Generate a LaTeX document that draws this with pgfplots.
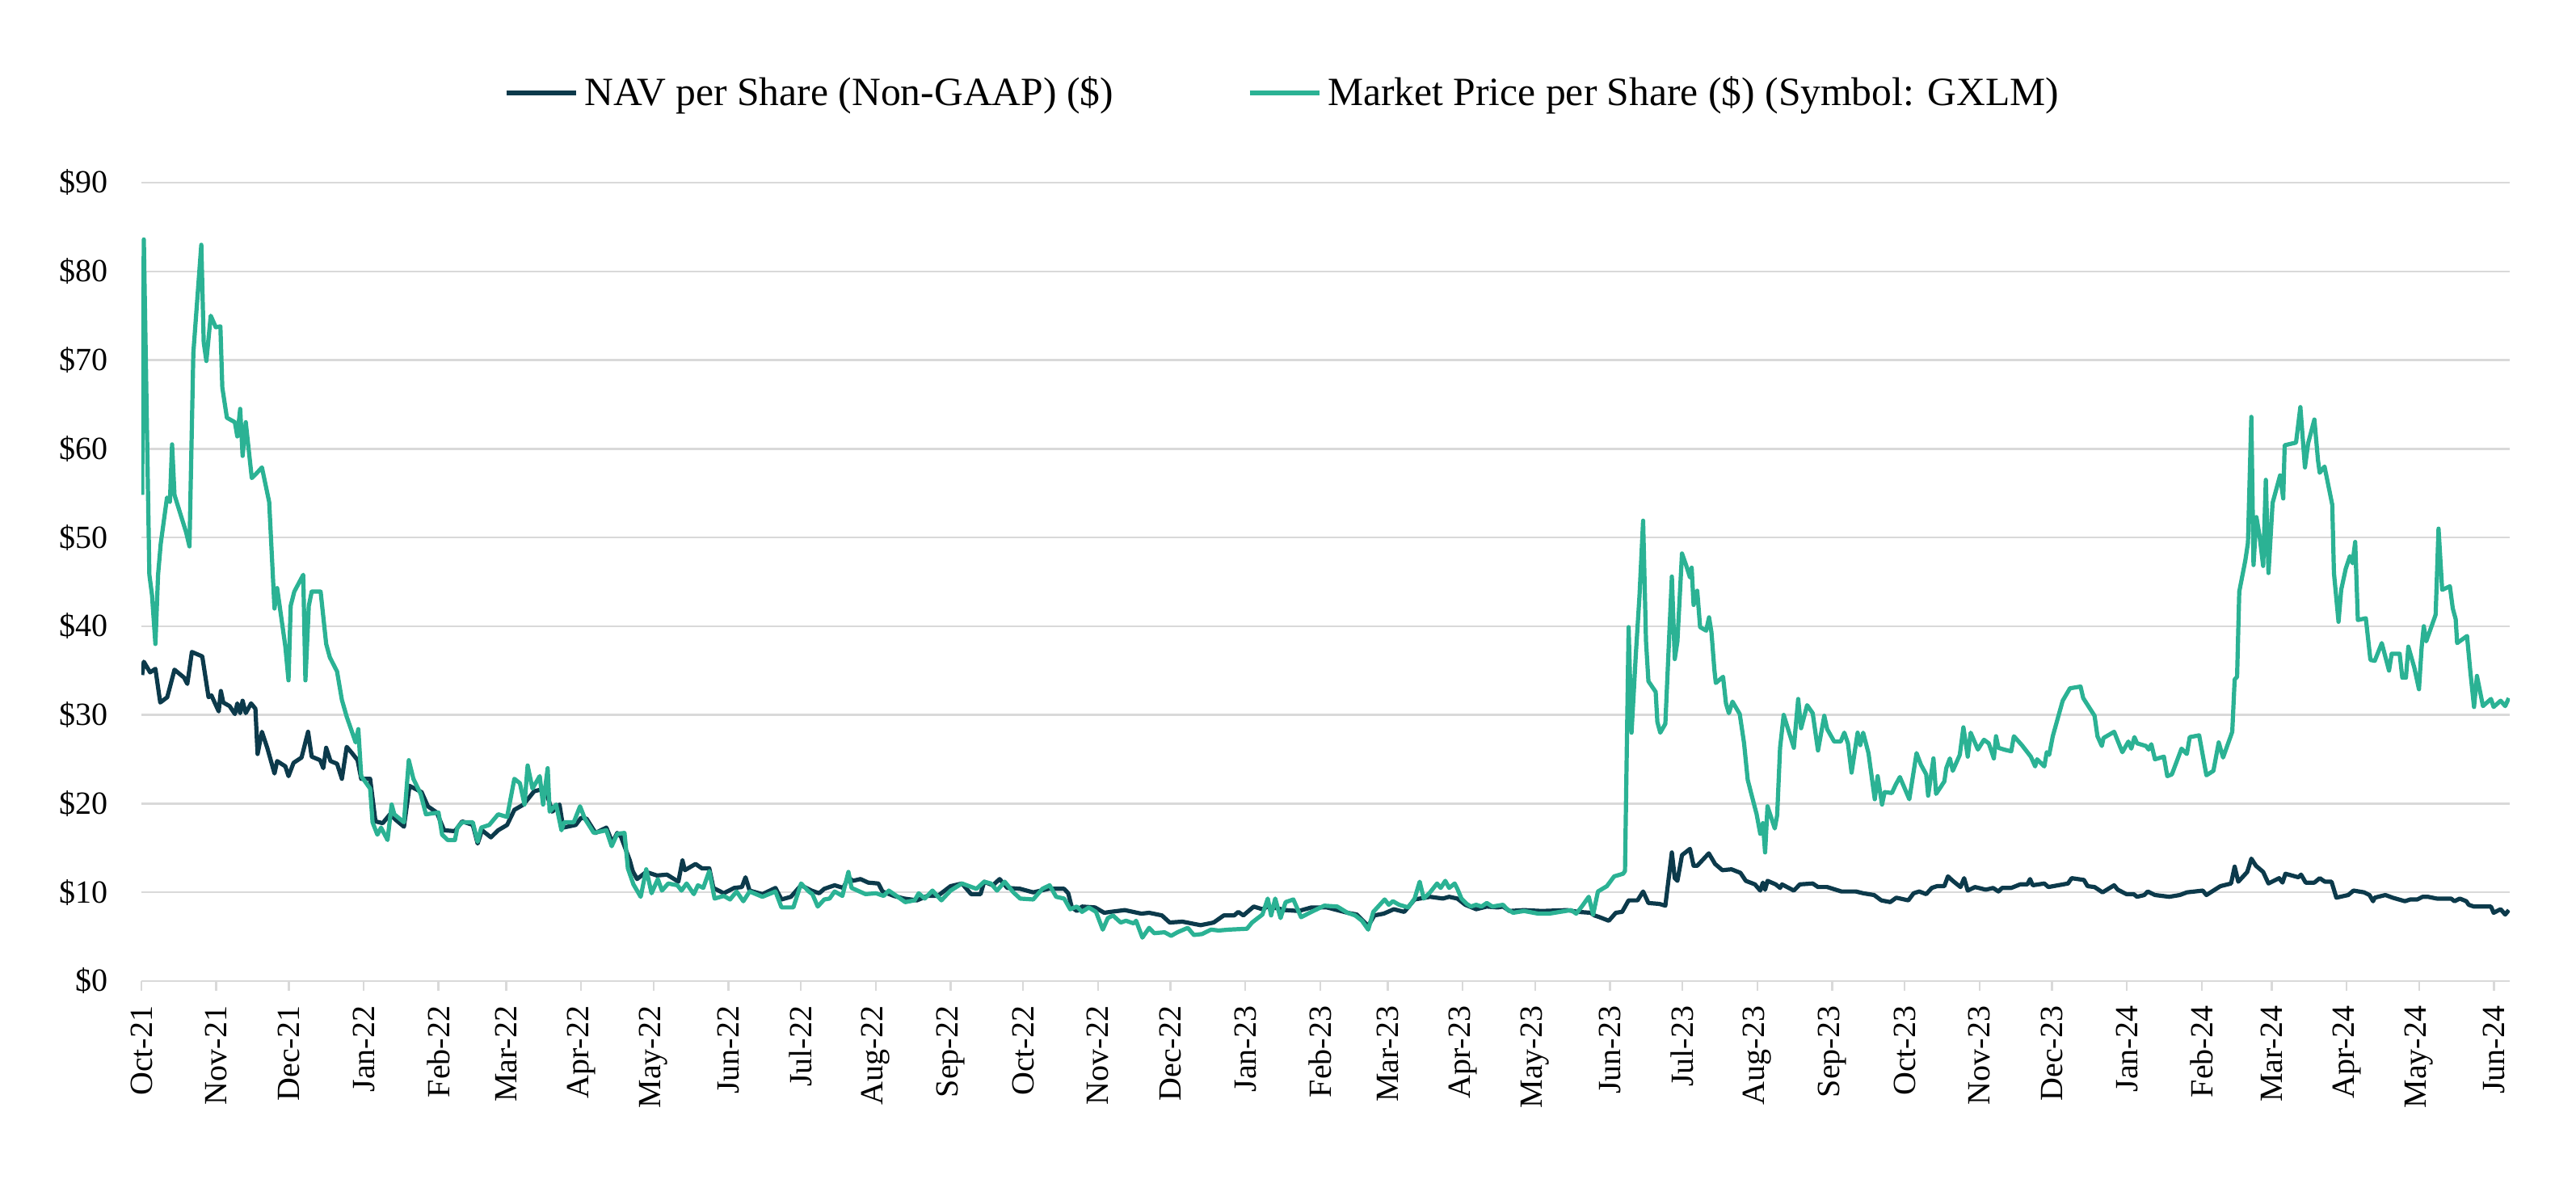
\documentclass[border=0pt]{standalone}
\usepackage{fontspec}
\setmainfont{Liberation Serif}
\usepackage{pgfplots}
\pgfplotsset{compat=1.18}
\definecolor{navc}{RGB}{12,58,75}
\definecolor{mktc}{RGB}{43,178,148}
\definecolor{gridc}{RGB}{217,217,217}
\begin{document}
\begin{tikzpicture}
\path[use as bounding box] (-43.75pt,-65.25pt) rectangle (753.25pt,303.5pt);
\begin{axis}[
  at={(0pt,0pt)}, anchor=south west,
  scale only axis, width=732.75pt, height=247pt,
  xmin=0, xmax=980.5, ymin=0, ymax=90,
  axis line style={draw=none},
  ymajorgrids, grid style={draw=gridc, line width=0.6pt},
  ytick={0,10,...,90},
  yticklabels={\$0,\$10,\$20,\$30,\$40,\$50,\$60,\$70,\$80,\$90},
  ytick style={draw=none},
  xtick={0,31,61,92,123,151,182,212,243,273,304,335,365,396,426,457,488,516,547,577,608,638,669,700,730,761,791,822,853,882,913,943,974},
  xticklabels={Oct-21,Nov-21,Dec-21,Jan-22,Feb-22,Mar-22,Apr-22,May-22,Jun-22,Jul-22,Aug-22,Sep-22,Oct-22,Nov-22,Dec-22,Jan-23,Feb-23,Mar-23,Apr-23,May-23,Jun-23,Jul-23,Aug-23,Sep-23,Oct-23,Nov-23,Dec-23,Jan-24,Feb-24,Mar-24,Apr-24,May-24,Jun-24},
  xtick style={draw=gridc, line width=0.6pt},
  tick align=outside, xtick pos=lower, ytick pos=left,
  major tick length=3pt,
  xticklabel style={rotate=90, anchor=east, inner sep=0pt, font=\fontsize{10}{12}\selectfont},
  yticklabel style={inner sep=0pt, font=\fontsize{10}{12}\selectfont},
  xticklabel shift=4.5pt,
  yticklabel shift=7.25pt,
  /pgf/number format/assume math mode=true,
  legend columns=2,
  legend style={at={(0.4828,1.1123)}, anchor=center, draw=none, fill=none,
    font=\fontsize{12.4}{14}\selectfont,
    /tikz/every even column/.append style={column sep=39.5pt}},
  legend image code/.code={\draw[#1, line width=1.3pt] (0pt,0pt) -- (21.5pt,0pt);},
  line join=round,
]
\addplot[navc, line width=1.3pt] table {
0.3 34.5
1 36
3.6 34.8
5.8 35.2
7.8 31.4
10.7 32
13.7 35.1
17.7 34.2
19 33.5
20.9 37.1
25.2 36.6
27.8 32
29 32.2
32 30.4
32.9 32.7
33.9 31.4
36.5 31
38.7 30.1
39.7 31.3
40.9 30.2
41.9 31.6
43.2 30.2
45.4 31.3
47.2 30.7
48.1 25.6
49.9 28.1
52.1 26.3
55.1 23.4
56.2 24.8
59.6 24.2
60.9 23.1
63 24.6
66.3 25.2
69 28.1
70.5 25.3
74 24.9
75.3 24
76.5 26.3
78.3 24.8
81 24.5
83 22.8
85 26.4
87.2 25.7
89.5 24.9
91 22.8
94.7 22.8
96.9 18
99.9 17.8
102.9 18.8
105.2 18.2
108.7 17.4
111 22
116 21.3
118.6 19.7
122.3 19
125.3 17
129.8 16.9
132.8 18
137.2 17.6
139.2 15.5
141 17
144.7 16.2
147.7 17
151.4 17.6
154.4 19.3
158.2 19.9
162.6 21.4
167.1 21.7
170.1 19.1
173.1 19.9
174.6 17.3
179.8 17.6
182 18.4
184.3 18.3
188 16.7
192.5 17.3
195 15.6
197 16.7
198.5 16.3
202.2 13.6
203.4 12.4
205.2 11.5
209 12.3
213.4 11.9
217.6 12
222.3 11.2
224 13.6
225 12.5
229.4 13.2
232.1 12.7
235.1 12.7
236.8 10.5
241.1 9.9
245.4 10.5
248.6 10.6
250.1 11.7
251.8 10.2
257.1 9.8
262.5 10.5
265 9.2
268.9 9.5
273.1 10.8
277.4 10.2
280.6 9.9
282.7 10.4
287 10.8
290.6 10.5
292.7 11.7
294.5 11.3
297.7 11.5
300.9 11.1
305.1 11
306.8 10.1
311.5 9.6
315.8 9.3
321.1 9.1
325.4 9.6
329.7 9.6
335 10.7
339.7 11
343.5 9.8
347.4 9.8
348.9 11.2
352.5 10.8
355.3 11.5
358.5 10.5
363.8 10.4
369.2 10
375.6 10.4
382 10.4
383.7 9.9
385.2 8.3
387.3 7.9
389.4 8.4
394.8 8.3
398.6 7.7
401.2 7.8
407.1 8
414 7.6
417.2 7.7
422.5 7.4
425.7 6.6
431 6.7
438.5 6.3
443.9 6.6
448.1 7.4
452.4 7.4
454.1 7.8
456.2 7.4
460.5 8.4
464.1 8.1
466.3 8.4
468.4 8.3
473.7 8
479.1 7.9
484.4 8.3
490.8 8.3
495.1 8
499.3 7.7
503.2 7.5
507.9 6.2
510.4 7.4
514.3 7.6
518.5 8.1
522.8 7.8
527.1 9.2
533.5 9.5
538.8 9.3
541.4 9.5
544.8 9.3
548.1 8.6
552.6 8.1
557 8.4
561.5 8.3
563.7 8.4
566.4 7.9
572.4 8
579.8 7.9
590.3 8
594.8 7.8
600 7.7
601.5 7.4
603.7 7.2
607.5 6.8
610.4 7.7
613 7.8
615.7 9.1
619.4 9.1
621.7 10.1
623.9 8.8
628.4 8.7
630.9 8.5
633.6 14.5
634.8 11.6
635.9 11.3
637.8 14.2
641.1 14.9
642.6 13
644.1 13
648.9 14.4
651.5 13.2
654.5 12.5
658.3 12.6
662 12.2
664.2 11.3
668 10.9
670.2 10.2
671.3 11.1
672.2 10.3
673.2 11.3
676.6 10.9
678.4 10.5
679.2 10.9
684.1 10.2
686.6 10.9
691.9 11
694.1 10.6
697.9 10.6
703.8 10.1
709.8 10.1
712.8 9.9
717.3 9.7
720.3 9.1
724 8.9
726.5 9.4
731.5 9.1
733.7 9.9
736 10.1
738.9 9.8
741.2 10.5
743.4 10.7
746.4 10.7
747.9 11.8
749.9 11.3
753.1 10.6
754.6 11.6
756.1 10.2
759.1 10.6
763.6 10.3
766.6 10.5
768.8 10.1
770.3 10.5
774.1 10.5
777.8 10.9
780.8 10.9
781.9 11.5
783 10.8
787.8 11
789.5 10.6
797.6 11
799.1 11.6
804.2 11.4
805.7 10.7
808.6 10.6
811.9 10
816.7 10.8
818.2 10.3
821.8 9.8
824.8 9.8
826.2 9.5
829.2 9.7
830.6 10.1
833.6 9.7
839.5 9.5
843.9 9.7
846.8 10
853.4 10.2
854.9 9.7
857.8 10.2
860.7 10.7
865.1 11
866.6 12.9
868.1 11.2
871.8 12.3
873.5 13.8
875.4 13
878.4 12.3
880.6 11
885 11.6
886.4 11.1
887.6 12.1
893 11.7
894.1 12
896 11.1
899.6 11.1
901.8 11.6
904 11.2
906.7 11.2
908.7 9.4
913.6 9.7
915.8 10.2
920.2 10
922.4 9.7
923.9 9
924.6 9.4
929 9.7
932 9.4
937.1 9
939.3 9.2
942.2 9.2
944.4 9.5
946.6 9.5
950.3 9.3
956.2 9.3
957.6 9
959.8 9.3
962.5 9
963.5 8.6
965.7 8.4
972.7 8.4
973.8 7.7
976.7 8.1
978.6 7.5
980.1 8
};
\addlegendentry{NAV per Share (Non-GAAP) (\$)}
\addplot[mktc, line width=1.3pt] table {
0.3 54.8
1 83.6
3.3 45.8
4.4 43.5
5.8 38
6.9 45.8
8 49.3
10.6 54.5
11.8 54
12.7 60.5
13.7 54.8
18.5 50.6
19.9 49
21.5 70.8
24.8 83
25.8 72
26.9 69.9
28.7 75
30.8 73.7
32.7 73.8
33.5 66.9
35.4 63.5
38.7 63
39.7 61.4
40.9 64.5
41.9 59.2
43.2 63
45.7 56.7
47.2 57.1
49.9 57.9
52.9 54
55.1 42
56.2 44.3
59.6 37.7
60.9 33.9
61.8 42.3
63.3 43.9
67 45.8
67.9 33.9
69.3 42.3
70.5 43.9
74.2 43.9
76.5 38
78 36.5
81 34.9
83 31.7
85 29.8
88.7 26.9
89.8 28.4
91 23.1
94.7 21.7
95.7 17.9
97.7 16.5
99.2 17.3
101.9 15.9
103.6 19.9
104.7 18.8
108.7 17.9
110.7 24.9
112.6 22.8
115.6 21.1
117.8 18.8
123 19
124.5 16.5
126.8 15.9
129.8 15.9
130.8 17.3
132.8 17.9
137.2 17.9
139.2 15.7
140.7 17.3
144 17.6
147.7 18.8
151.4 18.5
154.4 22.8
156.7 22.3
158.6 19.9
159.9 24.3
161.9 21.7
164.9 23.1
166.3 19.9
168.2 24
169 19.1
171.7 19.9
173.9 17
175 17.9
179 17.9
181.6 19.7
183.6 18.3
187.3 16.7
192.5 17
194.7 15.2
197 16.6
200 16.7
201.4 12.7
203.7 10.9
206.7 9.5
209 12.6
211.2 9.9
213.8 11.5
215.5 10.2
218.1 11
221.9 10.8
223.6 10.2
225.7 11
228.7 9.8
230.4 10.8
232.6 10.5
235.1 12.4
237.3 9.3
241.1 9.6
243.7 9.2
246.4 10.1
249.2 9
251.8 10.1
257.1 9.5
262.5 10.1
265 8.3
269.9 8.3
273.1 11
276.3 10.1
277.8 9.8
280 8.4
282.7 9.2
284.9 9.3
287 10.1
290.2 9.6
292.7 12.3
294 10.5
299.8 9.8
304.1 9.9
307.3 9.6
309.4 10.2
312.6 9.6
316.2 8.9
320.1 9.1
321.8 9.9
324.3 9.3
327.5 10.2
331.2 9.1
335 10.2
339.7 11
345.7 10.4
348.9 11.2
351.7 11
354.2 10.2
357.4 11.2
361 10
363.8 9.3
369.2 9.2
373 10.4
376 10.8
378.7 9.5
382 9.3
384.5 8.1
387.3 8.4
389.4 7.8
392.2 8.3
395.2 7.8
398 5.8
400.1 7.1
402.2 7.4
405.4 6.6
407.6 6.8
410.8 6.5
411.8 6.8
414.4 4.9
417.2 6
419.3 5.4
423.6 5.5
426.3 5.1
428.9 5.5
433.2 6
435.7 5.2
439.1 5.3
442.8 5.8
446 5.7
450.2 5.8
457.7 5.9
459.8 6.6
464.1 7.5
466.3 9.3
467.7 7.4
469.4 9.3
471.6 7.1
473.7 8.9
476.9 9.2
480.1 7.2
484.4 7.8
489.7 8.5
495.1 8.4
499.3 7.7
502.5 7.4
505.3 6.8
507.9 5.8
510 7.8
514.7 9.2
516.4 8.6
518.1 9
520.7 8.6
524.5 8.3
527.1 9.3
529.2 11.2
530.9 9.3
533.5 10
536.4 11
537.9 10.5
539.8 11.3
541.4 10.5
543.7 11
544.8 10.4
546.5 9.3
548.7 8.7
550.4 8.4
552.6 8.6
554.8 8.4
557 8.8
559.3 8.4
563.7 8.6
565.4 8.1
567.9 7.7
572.4 7.9
578.3 7.6
582.8 7.6
587.3 7.8
591.8 8
594 7.6
596.3 8.4
599.2 9.5
601 7.5
603 10.1
606.7 10.7
609.7 11.8
613.4 12.1
614.2 12.4
615.7 39.9
616.9 28
618.7 36.9
620.2 43.4
621.7 51.9
622.9 38.3
623.9 33.8
626.9 32.6
627.6 29.2
628.8 28
630.9 29
633.6 45.6
634.8 36.3
635.9 38.3
637.8 48.2
639.6 46.8
641.1 45.5
641.8 46.6
642.6 42.4
644.1 44
645.3 39.9
647.8 39.5
649 41
650 39.3
651.2 35.1
651.8 33.6
654.8 34.3
656 31.3
657.2 30.2
658.7 31.5
661.7 30.1
663.5 26.8
665 22.7
666.5 21.1
668.7 18.8
670.2 16.6
671.3 17.8
672.2 14.5
673.2 19.7
676.2 17.2
677.2 18.7
678.4 26.3
679.9 30
684.1 26.3
685.9 31.8
687.1 28.5
689.6 31.1
691.9 30.2
694.1 26
696.7 29.9
697.9 28.4
700.8 27
703.5 27
705 28
706.5 26.8
708 23.5
710.5 28
711.6 26.6
712.8 28
715 25.7
717.6 20.5
718.8 23.1
720.6 19.9
721.7 21.3
724.7 21.2
726.2 22.1
728 23
731.9 20.5
734.9 25.7
736.7 24.4
738.9 23.3
739.7 20.9
741.9 25.1
743 21.1
746.4 22.5
747.2 24
748.7 25.1
749.9 23.7
752.8 25.5
754.3 28.6
756.1 25.3
757.3 28
760.3 26.1
762.8 27.2
764.8 26.8
766.9 25.1
767.8 27.6
768.8 26.3
771.1 26.1
774.1 25.9
775.2 27.6
778.5 26.6
782.2 25.3
784 24.2
784.8 25
787.8 24.2
788.8 25.8
789.8 25.5
791.3 27.6
795.4 31.6
798.4 33
802.8 33.2
803.9 31.9
808.6 29.9
809.8 27.6
811.6 26.5
812.3 27.4
816.7 28.1
820.1 25.8
822.6 27
823.8 26.2
825.1 27.5
826.2 26.8
829.9 26.5
831 26.1
832.1 26.7
833.6 25
837.3 25.3
838.7 23.1
840.6 23.3
844.6 26.2
846.8 25.6
848 27.5
851.9 27.7
854.9 23.2
857.8 23.7
860 26.9
861.8 25.2
865.6 28.1
866.6 34
867.6 34.3
868.5 43.9
871 47.4
872.1 49.4
873.5 63.6
874.4 46.9
875.6 52.3
876.9 50.2
878.4 46.8
879.5 56.5
880.6 46
882.3 53.9
885.4 57
886.7 54.4
887.3 60.4
892 60.7
893.8 64.7
895.7 57.9
897 60.6
899.6 63.3
901.1 58.7
901.8 57.3
903.8 58
907 53.7
907.7 46
909.6 40.5
910.7 44.1
912.6 46.5
914.3 47.9
915.4 47.1
916.5 49.5
917.6 40.7
920.9 40.9
922.8 36.2
924.6 36.1
927.5 38.1
930.5 35
931.6 36.9
934.9 36.9
936 34.2
937.5 34.2
938.5 37.7
941 35.3
942.9 32.9
944 37.6
944.9 40
945.9 38.3
949.8 41.3
951 51
952.5 44.1
955.7 44.5
956.9 42
958.1 40.8
958.7 38.1
962.8 38.9
964.2 34.8
965.7 30.9
966.9 34.4
969.4 31
972.7 31.8
973.8 30.9
976.7 31.6
978.6 31
980.1 31.9
};
\addlegendentry{Market Price per Share (\$) (Symbol: GXLM)}
\end{axis}
\end{tikzpicture}
\end{document}
